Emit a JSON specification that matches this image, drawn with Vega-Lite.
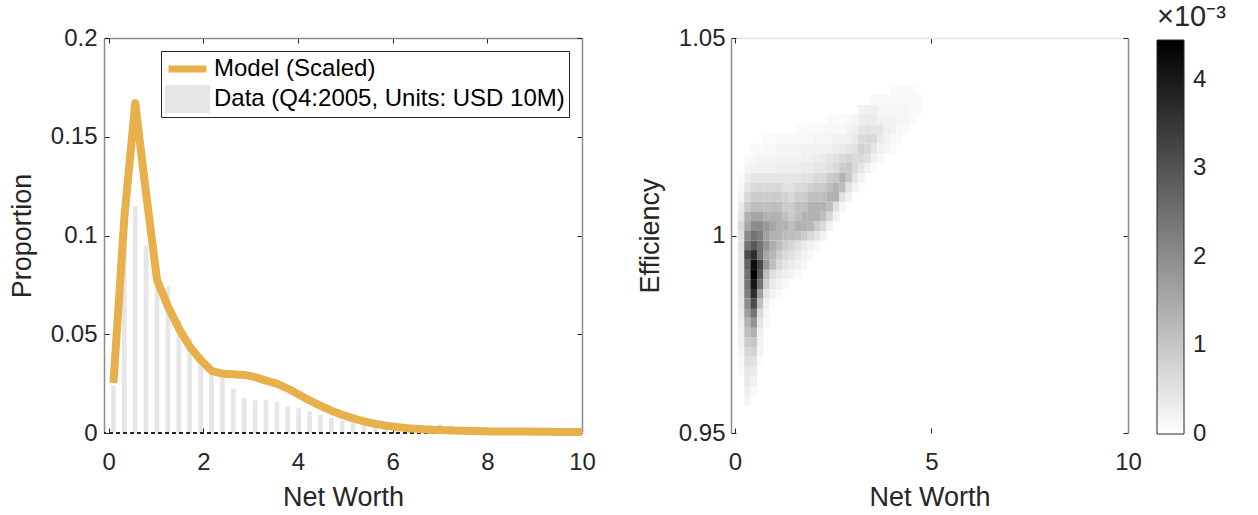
{
  "$schema": "https://vega.github.io/schema/vega-lite/v6.json",
  "padding": {"left": 8, "top": 3, "right": 0, "bottom": 0},
  "background": "#ffffff",
  "datasets": {
    "hist": [
      {"nw": 0.1, "prop": 0.024}, {"nw": 0.33, "prop": 0.095}, {"nw": 0.56, "prop": 0.115}, {"nw": 0.791, "prop": 0.095},
      {"nw": 1.021, "prop": 0.078}, {"nw": 1.251, "prop": 0.074}, {"nw": 1.481, "prop": 0.057}, {"nw": 1.711, "prop": 0.048},
      {"nw": 1.942, "prop": 0.04}, {"nw": 2.172, "prop": 0.032}, {"nw": 2.402, "prop": 0.028}, {"nw": 2.632, "prop": 0.0224},
      {"nw": 2.862, "prop": 0.0177}, {"nw": 3.093, "prop": 0.0165}, {"nw": 3.323, "prop": 0.0167}, {"nw": 3.553, "prop": 0.0157},
      {"nw": 3.783, "prop": 0.0135}, {"nw": 4.013, "prop": 0.0126}, {"nw": 4.244, "prop": 0.0109}, {"nw": 4.474, "prop": 0.0093},
      {"nw": 4.704, "prop": 0.0076}, {"nw": 4.934, "prop": 0.0062}, {"nw": 5.164, "prop": 0.005}, {"nw": 5.395, "prop": 0.0045},
      {"nw": 5.625, "prop": 0.0058}, {"nw": 5.855, "prop": 0.0035}, {"nw": 6.085, "prop": 0.003}, {"nw": 6.315, "prop": 0.0028},
      {"nw": 6.546, "prop": 0.0035}, {"nw": 6.776, "prop": 0.0042}, {"nw": 7.006, "prop": 0.0044}, {"nw": 7.236, "prop": 0.0038},
      {"nw": 7.466, "prop": 0.0025}, {"nw": 7.697, "prop": 0.003}, {"nw": 7.927, "prop": 0.0022}, {"nw": 8.157, "prop": 0.002},
      {"nw": 8.387, "prop": 0.0015}, {"nw": 8.617, "prop": 0.0012}, {"nw": 8.848, "prop": 0.001}, {"nw": 9.078, "prop": 0.0012},
      {"nw": 9.308, "prop": 0.001}, {"nw": 9.538, "prop": 0.0008}, {"nw": 9.768, "prop": 0.0015}, {"nw": 9.998, "prop": 0.0005}
    ],
    "model": [
      {"nw": 0.1, "prop": 0.0253}, {"nw": 0.33, "prop": 0.109}, {"nw": 0.56, "prop": 0.167}, {"nw": 0.791, "prop": 0.121},
      {"nw": 1.021, "prop": 0.0775}, {"nw": 1.251, "prop": 0.064}, {"nw": 1.481, "prop": 0.053}, {"nw": 1.711, "prop": 0.0438},
      {"nw": 1.942, "prop": 0.037}, {"nw": 2.172, "prop": 0.0315}, {"nw": 2.402, "prop": 0.03}, {"nw": 2.632, "prop": 0.0298},
      {"nw": 2.862, "prop": 0.0294}, {"nw": 3.093, "prop": 0.0283}, {"nw": 3.323, "prop": 0.0265}, {"nw": 3.553, "prop": 0.025},
      {"nw": 3.783, "prop": 0.0225}, {"nw": 4.013, "prop": 0.0195}, {"nw": 4.244, "prop": 0.0165}, {"nw": 4.474, "prop": 0.0138},
      {"nw": 4.704, "prop": 0.0113}, {"nw": 4.934, "prop": 0.0092}, {"nw": 5.164, "prop": 0.0074}, {"nw": 5.395, "prop": 0.0059},
      {"nw": 5.625, "prop": 0.0047}, {"nw": 5.855, "prop": 0.0037}, {"nw": 6.085, "prop": 0.003}, {"nw": 6.315, "prop": 0.0024},
      {"nw": 6.546, "prop": 0.002}, {"nw": 6.776, "prop": 0.0017}, {"nw": 7.006, "prop": 0.0015}, {"nw": 7.236, "prop": 0.0013},
      {"nw": 7.466, "prop": 0.0011}, {"nw": 7.697, "prop": 0.001}, {"nw": 7.927, "prop": 0.0009}, {"nw": 8.157, "prop": 0.0008},
      {"nw": 8.387, "prop": 0.0008}, {"nw": 8.617, "prop": 0.0007}, {"nw": 8.848, "prop": 0.0007}, {"nw": 9.078, "prop": 0.0006},
      {"nw": 9.308, "prop": 0.0006}, {"nw": 9.538, "prop": 0.0005}, {"nw": 9.768, "prop": 0.0005}, {"nw": 9.998, "prop": 0.0005}
    ],
    "density": [
      {"nw": 0.321, "eff": 0.9583, "d": 0.18},
      {"nw": 0.321, "eff": 0.9608, "d": 0.27}, {"nw": 0.482, "eff": 0.9608, "d": 0.13},
      {"nw": 0.321, "eff": 0.9632, "d": 0.36}, {"nw": 0.482, "eff": 0.9632, "d": 0.27},
      {"nw": 0.16, "eff": 0.9657, "d": 0.09}, {"nw": 0.321, "eff": 0.9657, "d": 0.45}, {"nw": 0.482, "eff": 0.9657, "d": 0.36},
      {"nw": 0.16, "eff": 0.9681, "d": 0.13}, {"nw": 0.321, "eff": 0.9681, "d": 0.58}, {"nw": 0.482, "eff": 0.9681, "d": 0.53}, {"nw": 0.643, "eff": 0.9681, "d": 0.09},
      {"nw": 0.16, "eff": 0.9706, "d": 0.18}, {"nw": 0.321, "eff": 0.9706, "d": 0.71}, {"nw": 0.482, "eff": 0.9706, "d": 0.76}, {"nw": 0.643, "eff": 0.9706, "d": 0.18},
      {"nw": 0.16, "eff": 0.973, "d": 0.22}, {"nw": 0.321, "eff": 0.973, "d": 0.89}, {"nw": 0.482, "eff": 0.973, "d": 0.98}, {"nw": 0.643, "eff": 0.973, "d": 0.22},
      {"nw": 0.16, "eff": 0.9755, "d": 0.27}, {"nw": 0.321, "eff": 0.9755, "d": 1.11}, {"nw": 0.482, "eff": 0.9755, "d": 1.34}, {"nw": 0.643, "eff": 0.9755, "d": 0.27},
      {"nw": 0.16, "eff": 0.9779, "d": 0.31}, {"nw": 0.321, "eff": 0.9779, "d": 1.34}, {"nw": 0.482, "eff": 0.9779, "d": 1.87}, {"nw": 0.643, "eff": 0.9779, "d": 0.45}, {"nw": 0.804, "eff": 0.9779, "d": 0.09},
      {"nw": 0.16, "eff": 0.9804, "d": 0.36}, {"nw": 0.321, "eff": 0.9804, "d": 1.69}, {"nw": 0.482, "eff": 0.9804, "d": 2.45}, {"nw": 0.643, "eff": 0.9804, "d": 0.67}, {"nw": 0.804, "eff": 0.9804, "d": 0.18},
      {"nw": 0.16, "eff": 0.9828, "d": 0.45}, {"nw": 0.321, "eff": 0.9828, "d": 2.0}, {"nw": 0.482, "eff": 0.9828, "d": 3.12}, {"nw": 0.643, "eff": 0.9828, "d": 1.11}, {"nw": 0.804, "eff": 0.9828, "d": 0.27}, {"nw": 0.965, "eff": 0.9828, "d": 0.09},
      {"nw": 0.16, "eff": 0.9853, "d": 0.45}, {"nw": 0.321, "eff": 0.9853, "d": 2.23}, {"nw": 0.482, "eff": 0.9853, "d": 3.65}, {"nw": 0.643, "eff": 0.9853, "d": 1.69}, {"nw": 0.804, "eff": 0.9853, "d": 0.45}, {"nw": 0.965, "eff": 0.9853, "d": 0.22}, {"nw": 1.126, "eff": 0.9853, "d": 0.09},
      {"nw": 0.16, "eff": 0.9877, "d": 0.45}, {"nw": 0.321, "eff": 0.9877, "d": 2.45}, {"nw": 0.482, "eff": 0.9877, "d": 4.09}, {"nw": 0.643, "eff": 0.9877, "d": 2.45}, {"nw": 0.804, "eff": 0.9877, "d": 0.8}, {"nw": 0.965, "eff": 0.9877, "d": 0.36}, {"nw": 1.126, "eff": 0.9877, "d": 0.22}, {"nw": 1.287, "eff": 0.9877, "d": 0.13},
      {"nw": 0.16, "eff": 0.9902, "d": 0.45}, {"nw": 0.321, "eff": 0.9902, "d": 2.45}, {"nw": 0.482, "eff": 0.9902, "d": 4.45}, {"nw": 0.643, "eff": 0.9902, "d": 2.89}, {"nw": 0.804, "eff": 0.9902, "d": 1.11}, {"nw": 0.965, "eff": 0.9902, "d": 0.53}, {"nw": 1.126, "eff": 0.9902, "d": 0.36}, {"nw": 1.287, "eff": 0.9902, "d": 0.27}, {"nw": 1.448, "eff": 0.9902, "d": 0.18}, {"nw": 1.609, "eff": 0.9902, "d": 0.09},
      {"nw": 0.16, "eff": 0.9926, "d": 0.45}, {"nw": 0.321, "eff": 0.9926, "d": 2.67}, {"nw": 0.482, "eff": 0.9926, "d": 4.23}, {"nw": 0.643, "eff": 0.9926, "d": 3.2}, {"nw": 0.804, "eff": 0.9926, "d": 1.78}, {"nw": 0.965, "eff": 0.9926, "d": 1.11}, {"nw": 1.126, "eff": 0.9926, "d": 0.67}, {"nw": 1.287, "eff": 0.9926, "d": 0.45}, {"nw": 1.448, "eff": 0.9926, "d": 0.31}, {"nw": 1.609, "eff": 0.9926, "d": 0.22}, {"nw": 1.77, "eff": 0.9926, "d": 0.13},
      {"nw": 0.16, "eff": 0.9951, "d": 0.45}, {"nw": 0.321, "eff": 0.9951, "d": 3.12}, {"nw": 0.482, "eff": 0.9951, "d": 3.65}, {"nw": 0.643, "eff": 0.9951, "d": 2.45}, {"nw": 0.804, "eff": 0.9951, "d": 1.56}, {"nw": 0.965, "eff": 0.9951, "d": 1.25}, {"nw": 1.126, "eff": 0.9951, "d": 0.89}, {"nw": 1.287, "eff": 0.9951, "d": 0.67}, {"nw": 1.448, "eff": 0.9951, "d": 0.53}, {"nw": 1.609, "eff": 0.9951, "d": 0.36}, {"nw": 1.77, "eff": 0.9951, "d": 0.22}, {"nw": 1.931, "eff": 0.9951, "d": 0.13},
      {"nw": 0.16, "eff": 0.9975, "d": 0.53}, {"nw": 0.321, "eff": 0.9975, "d": 2.45}, {"nw": 0.482, "eff": 0.9975, "d": 2.89}, {"nw": 0.643, "eff": 0.9975, "d": 2.45}, {"nw": 0.804, "eff": 0.9975, "d": 1.87}, {"nw": 0.965, "eff": 0.9975, "d": 1.42}, {"nw": 1.126, "eff": 0.9975, "d": 1.16}, {"nw": 1.287, "eff": 0.9975, "d": 0.89}, {"nw": 1.448, "eff": 0.9975, "d": 0.71}, {"nw": 1.609, "eff": 0.9975, "d": 0.53}, {"nw": 1.77, "eff": 0.9975, "d": 0.36}, {"nw": 1.931, "eff": 0.9975, "d": 0.22}, {"nw": 2.092, "eff": 0.9975, "d": 0.13},
      {"nw": 0.16, "eff": 1.0, "d": 0.53}, {"nw": 0.321, "eff": 1.0, "d": 2.0}, {"nw": 0.482, "eff": 1.0, "d": 2.45}, {"nw": 0.643, "eff": 1.0, "d": 2.23}, {"nw": 0.804, "eff": 1.0, "d": 1.6}, {"nw": 0.965, "eff": 1.0, "d": 1.34}, {"nw": 1.126, "eff": 1.0, "d": 1.34}, {"nw": 1.287, "eff": 1.0, "d": 1.16}, {"nw": 1.448, "eff": 1.0, "d": 1.11}, {"nw": 1.609, "eff": 1.0, "d": 1.07}, {"nw": 1.77, "eff": 1.0, "d": 0.89}, {"nw": 1.931, "eff": 1.0, "d": 0.67}, {"nw": 2.092, "eff": 1.0, "d": 0.45}, {"nw": 2.253, "eff": 1.0, "d": 0.22},
      {"nw": 0.16, "eff": 1.0024, "d": 0.67}, {"nw": 0.321, "eff": 1.0024, "d": 1.56}, {"nw": 0.482, "eff": 1.0024, "d": 2.0}, {"nw": 0.643, "eff": 1.0024, "d": 2.0}, {"nw": 0.804, "eff": 1.0024, "d": 1.78}, {"nw": 0.965, "eff": 1.0024, "d": 1.56}, {"nw": 1.126, "eff": 1.0024, "d": 1.34}, {"nw": 1.287, "eff": 1.0024, "d": 1.34}, {"nw": 1.448, "eff": 1.0024, "d": 1.11}, {"nw": 1.609, "eff": 1.0024, "d": 1.34}, {"nw": 1.77, "eff": 1.0024, "d": 1.34}, {"nw": 1.931, "eff": 1.0024, "d": 1.25}, {"nw": 2.092, "eff": 1.0024, "d": 0.89}, {"nw": 2.253, "eff": 1.0024, "d": 0.62}, {"nw": 2.414, "eff": 1.0024, "d": 0.22},
      {"nw": 0.16, "eff": 1.0049, "d": 0.45}, {"nw": 0.321, "eff": 1.0049, "d": 1.34}, {"nw": 0.482, "eff": 1.0049, "d": 1.56}, {"nw": 0.643, "eff": 1.0049, "d": 1.56}, {"nw": 0.804, "eff": 1.0049, "d": 1.34}, {"nw": 0.965, "eff": 1.0049, "d": 1.34}, {"nw": 1.126, "eff": 1.0049, "d": 1.34}, {"nw": 1.287, "eff": 1.0049, "d": 1.11}, {"nw": 1.448, "eff": 1.0049, "d": 0.89}, {"nw": 1.609, "eff": 1.0049, "d": 1.11}, {"nw": 1.77, "eff": 1.0049, "d": 1.34}, {"nw": 1.931, "eff": 1.0049, "d": 1.34}, {"nw": 2.092, "eff": 1.0049, "d": 1.34}, {"nw": 2.253, "eff": 1.0049, "d": 1.11}, {"nw": 2.414, "eff": 1.0049, "d": 0.67}, {"nw": 2.575, "eff": 1.0049, "d": 0.22},
      {"nw": 0.16, "eff": 1.0073, "d": 0.36}, {"nw": 0.321, "eff": 1.0073, "d": 0.89}, {"nw": 0.482, "eff": 1.0073, "d": 1.11}, {"nw": 0.643, "eff": 1.0073, "d": 1.11}, {"nw": 0.804, "eff": 1.0073, "d": 1.11}, {"nw": 0.965, "eff": 1.0073, "d": 1.11}, {"nw": 1.126, "eff": 1.0073, "d": 1.11}, {"nw": 1.287, "eff": 1.0073, "d": 0.89}, {"nw": 1.448, "eff": 1.0073, "d": 0.89}, {"nw": 1.609, "eff": 1.0073, "d": 1.11}, {"nw": 1.77, "eff": 1.0073, "d": 1.11}, {"nw": 1.931, "eff": 1.0073, "d": 1.34}, {"nw": 2.092, "eff": 1.0073, "d": 1.34}, {"nw": 2.253, "eff": 1.0073, "d": 1.34}, {"nw": 2.414, "eff": 1.0073, "d": 1.11}, {"nw": 2.575, "eff": 1.0073, "d": 0.53}, {"nw": 2.736, "eff": 1.0073, "d": 0.18},
      {"nw": 0.16, "eff": 1.0098, "d": 0.22}, {"nw": 0.321, "eff": 1.0098, "d": 0.67}, {"nw": 0.482, "eff": 1.0098, "d": 0.89}, {"nw": 0.643, "eff": 1.0098, "d": 0.89}, {"nw": 0.804, "eff": 1.0098, "d": 0.89}, {"nw": 0.965, "eff": 1.0098, "d": 0.89}, {"nw": 1.126, "eff": 1.0098, "d": 0.89}, {"nw": 1.287, "eff": 1.0098, "d": 0.8}, {"nw": 1.448, "eff": 1.0098, "d": 0.67}, {"nw": 1.609, "eff": 1.0098, "d": 0.89}, {"nw": 1.77, "eff": 1.0098, "d": 0.89}, {"nw": 1.931, "eff": 1.0098, "d": 1.11}, {"nw": 2.092, "eff": 1.0098, "d": 1.11}, {"nw": 2.253, "eff": 1.0098, "d": 1.16}, {"nw": 2.414, "eff": 1.0098, "d": 1.34}, {"nw": 2.575, "eff": 1.0098, "d": 1.34}, {"nw": 2.736, "eff": 1.0098, "d": 0.53}, {"nw": 2.897, "eff": 1.0098, "d": 0.22},
      {"nw": 0.16, "eff": 1.0122, "d": 0.13}, {"nw": 0.321, "eff": 1.0122, "d": 0.45}, {"nw": 0.482, "eff": 1.0122, "d": 0.62}, {"nw": 0.643, "eff": 1.0122, "d": 0.67}, {"nw": 0.804, "eff": 1.0122, "d": 0.67}, {"nw": 0.965, "eff": 1.0122, "d": 0.67}, {"nw": 1.126, "eff": 1.0122, "d": 0.67}, {"nw": 1.287, "eff": 1.0122, "d": 0.53}, {"nw": 1.448, "eff": 1.0122, "d": 0.53}, {"nw": 1.609, "eff": 1.0122, "d": 0.67}, {"nw": 1.77, "eff": 1.0122, "d": 0.67}, {"nw": 1.931, "eff": 1.0122, "d": 0.8}, {"nw": 2.092, "eff": 1.0122, "d": 0.89}, {"nw": 2.253, "eff": 1.0122, "d": 0.89}, {"nw": 2.414, "eff": 1.0122, "d": 1.11}, {"nw": 2.575, "eff": 1.0122, "d": 1.34}, {"nw": 2.736, "eff": 1.0122, "d": 1.16}, {"nw": 2.897, "eff": 1.0122, "d": 0.53}, {"nw": 3.058, "eff": 1.0122, "d": 0.22}, {"nw": 3.219, "eff": 1.0122, "d": 0.09},
      {"nw": 0.16, "eff": 1.0147, "d": 0.09}, {"nw": 0.321, "eff": 1.0147, "d": 0.31}, {"nw": 0.482, "eff": 1.0147, "d": 0.45}, {"nw": 0.643, "eff": 1.0147, "d": 0.45}, {"nw": 0.804, "eff": 1.0147, "d": 0.45}, {"nw": 0.965, "eff": 1.0147, "d": 0.45}, {"nw": 1.126, "eff": 1.0147, "d": 0.45}, {"nw": 1.287, "eff": 1.0147, "d": 0.45}, {"nw": 1.448, "eff": 1.0147, "d": 0.45}, {"nw": 1.609, "eff": 1.0147, "d": 0.45}, {"nw": 1.77, "eff": 1.0147, "d": 0.53}, {"nw": 1.931, "eff": 1.0147, "d": 0.53}, {"nw": 2.092, "eff": 1.0147, "d": 0.67}, {"nw": 2.253, "eff": 1.0147, "d": 0.67}, {"nw": 2.414, "eff": 1.0147, "d": 0.89}, {"nw": 2.575, "eff": 1.0147, "d": 0.98}, {"nw": 2.736, "eff": 1.0147, "d": 1.34}, {"nw": 2.897, "eff": 1.0147, "d": 0.98}, {"nw": 3.058, "eff": 1.0147, "d": 0.45}, {"nw": 3.219, "eff": 1.0147, "d": 0.22},
      {"nw": 0.321, "eff": 1.0171, "d": 0.18}, {"nw": 0.482, "eff": 1.0171, "d": 0.22}, {"nw": 0.643, "eff": 1.0171, "d": 0.27}, {"nw": 0.804, "eff": 1.0171, "d": 0.27}, {"nw": 0.965, "eff": 1.0171, "d": 0.27}, {"nw": 1.126, "eff": 1.0171, "d": 0.31}, {"nw": 1.287, "eff": 1.0171, "d": 0.31}, {"nw": 1.448, "eff": 1.0171, "d": 0.31}, {"nw": 1.609, "eff": 1.0171, "d": 0.31}, {"nw": 1.77, "eff": 1.0171, "d": 0.36}, {"nw": 1.931, "eff": 1.0171, "d": 0.36}, {"nw": 2.092, "eff": 1.0171, "d": 0.45}, {"nw": 2.253, "eff": 1.0171, "d": 0.45}, {"nw": 2.414, "eff": 1.0171, "d": 0.53}, {"nw": 2.575, "eff": 1.0171, "d": 0.67}, {"nw": 2.736, "eff": 1.0171, "d": 0.89}, {"nw": 2.897, "eff": 1.0171, "d": 0.98}, {"nw": 3.058, "eff": 1.0171, "d": 0.67}, {"nw": 3.219, "eff": 1.0171, "d": 0.45}, {"nw": 3.38, "eff": 1.0171, "d": 0.22}, {"nw": 3.541, "eff": 1.0171, "d": 0.09},
      {"nw": 0.321, "eff": 1.0196, "d": 0.09}, {"nw": 0.482, "eff": 1.0196, "d": 0.13}, {"nw": 0.643, "eff": 1.0196, "d": 0.18}, {"nw": 0.804, "eff": 1.0196, "d": 0.18}, {"nw": 0.965, "eff": 1.0196, "d": 0.18}, {"nw": 1.126, "eff": 1.0196, "d": 0.22}, {"nw": 1.287, "eff": 1.0196, "d": 0.22}, {"nw": 1.448, "eff": 1.0196, "d": 0.22}, {"nw": 1.609, "eff": 1.0196, "d": 0.22}, {"nw": 1.77, "eff": 1.0196, "d": 0.27}, {"nw": 1.931, "eff": 1.0196, "d": 0.27}, {"nw": 2.092, "eff": 1.0196, "d": 0.31}, {"nw": 2.253, "eff": 1.0196, "d": 0.36}, {"nw": 2.414, "eff": 1.0196, "d": 0.45}, {"nw": 2.575, "eff": 1.0196, "d": 0.53}, {"nw": 2.736, "eff": 1.0196, "d": 0.67}, {"nw": 2.897, "eff": 1.0196, "d": 0.71}, {"nw": 3.058, "eff": 1.0196, "d": 0.62}, {"nw": 3.219, "eff": 1.0196, "d": 0.67}, {"nw": 3.38, "eff": 1.0196, "d": 0.53}, {"nw": 3.541, "eff": 1.0196, "d": 0.27}, {"nw": 3.702, "eff": 1.0196, "d": 0.13},
      {"nw": 0.482, "eff": 1.022, "d": 0.09}, {"nw": 0.643, "eff": 1.022, "d": 0.09}, {"nw": 0.804, "eff": 1.022, "d": 0.13}, {"nw": 0.965, "eff": 1.022, "d": 0.13}, {"nw": 1.126, "eff": 1.022, "d": 0.18}, {"nw": 1.287, "eff": 1.022, "d": 0.18}, {"nw": 1.448, "eff": 1.022, "d": 0.18}, {"nw": 1.609, "eff": 1.022, "d": 0.18}, {"nw": 1.77, "eff": 1.022, "d": 0.22}, {"nw": 1.931, "eff": 1.022, "d": 0.22}, {"nw": 2.092, "eff": 1.022, "d": 0.22}, {"nw": 2.253, "eff": 1.022, "d": 0.22}, {"nw": 2.414, "eff": 1.022, "d": 0.27}, {"nw": 2.575, "eff": 1.022, "d": 0.31}, {"nw": 2.736, "eff": 1.022, "d": 0.36}, {"nw": 2.897, "eff": 1.022, "d": 0.45}, {"nw": 3.058, "eff": 1.022, "d": 0.53}, {"nw": 3.219, "eff": 1.022, "d": 0.8}, {"nw": 3.38, "eff": 1.022, "d": 0.67}, {"nw": 3.541, "eff": 1.022, "d": 0.45}, {"nw": 3.702, "eff": 1.022, "d": 0.22}, {"nw": 3.863, "eff": 1.022, "d": 0.18}, {"nw": 4.024, "eff": 1.022, "d": 0.09},
      {"nw": 0.804, "eff": 1.0245, "d": 0.09}, {"nw": 0.965, "eff": 1.0245, "d": 0.09}, {"nw": 1.126, "eff": 1.0245, "d": 0.09}, {"nw": 1.287, "eff": 1.0245, "d": 0.09}, {"nw": 1.448, "eff": 1.0245, "d": 0.09}, {"nw": 1.609, "eff": 1.0245, "d": 0.13}, {"nw": 1.77, "eff": 1.0245, "d": 0.13}, {"nw": 1.931, "eff": 1.0245, "d": 0.13}, {"nw": 2.092, "eff": 1.0245, "d": 0.18}, {"nw": 2.253, "eff": 1.0245, "d": 0.18}, {"nw": 2.414, "eff": 1.0245, "d": 0.18}, {"nw": 2.575, "eff": 1.0245, "d": 0.22}, {"nw": 2.736, "eff": 1.0245, "d": 0.22}, {"nw": 2.897, "eff": 1.0245, "d": 0.27}, {"nw": 3.058, "eff": 1.0245, "d": 0.36}, {"nw": 3.219, "eff": 1.0245, "d": 0.62}, {"nw": 3.38, "eff": 1.0245, "d": 0.67}, {"nw": 3.541, "eff": 1.0245, "d": 0.67}, {"nw": 3.702, "eff": 1.0245, "d": 0.36}, {"nw": 3.863, "eff": 1.0245, "d": 0.22}, {"nw": 4.024, "eff": 1.0245, "d": 0.13}, {"nw": 4.185, "eff": 1.0245, "d": 0.09},
      {"nw": 1.609, "eff": 1.0269, "d": 0.09}, {"nw": 1.77, "eff": 1.0269, "d": 0.09}, {"nw": 1.931, "eff": 1.0269, "d": 0.09}, {"nw": 2.092, "eff": 1.0269, "d": 0.09}, {"nw": 2.253, "eff": 1.0269, "d": 0.13}, {"nw": 2.414, "eff": 1.0269, "d": 0.13}, {"nw": 2.575, "eff": 1.0269, "d": 0.13}, {"nw": 2.736, "eff": 1.0269, "d": 0.13}, {"nw": 2.897, "eff": 1.0269, "d": 0.22}, {"nw": 3.058, "eff": 1.0269, "d": 0.27}, {"nw": 3.219, "eff": 1.0269, "d": 0.45}, {"nw": 3.38, "eff": 1.0269, "d": 0.53}, {"nw": 3.541, "eff": 1.0269, "d": 0.45}, {"nw": 3.702, "eff": 1.0269, "d": 0.45}, {"nw": 3.863, "eff": 1.0269, "d": 0.27}, {"nw": 4.024, "eff": 1.0269, "d": 0.22}, {"nw": 4.185, "eff": 1.0269, "d": 0.13}, {"nw": 4.346, "eff": 1.0269, "d": 0.09},
      {"nw": 2.414, "eff": 1.0294, "d": 0.09}, {"nw": 2.575, "eff": 1.0294, "d": 0.09}, {"nw": 2.736, "eff": 1.0294, "d": 0.09}, {"nw": 2.897, "eff": 1.0294, "d": 0.13}, {"nw": 3.058, "eff": 1.0294, "d": 0.18}, {"nw": 3.219, "eff": 1.0294, "d": 0.31}, {"nw": 3.38, "eff": 1.0294, "d": 0.36}, {"nw": 3.541, "eff": 1.0294, "d": 0.36}, {"nw": 3.702, "eff": 1.0294, "d": 0.27}, {"nw": 3.863, "eff": 1.0294, "d": 0.22}, {"nw": 4.024, "eff": 1.0294, "d": 0.22}, {"nw": 4.185, "eff": 1.0294, "d": 0.18}, {"nw": 4.346, "eff": 1.0294, "d": 0.18}, {"nw": 4.507, "eff": 1.0294, "d": 0.09},
      {"nw": 3.219, "eff": 1.0318, "d": 0.22}, {"nw": 3.38, "eff": 1.0318, "d": 0.27}, {"nw": 3.541, "eff": 1.0318, "d": 0.27}, {"nw": 3.702, "eff": 1.0318, "d": 0.18}, {"nw": 3.863, "eff": 1.0318, "d": 0.18}, {"nw": 4.024, "eff": 1.0318, "d": 0.18}, {"nw": 4.185, "eff": 1.0318, "d": 0.18}, {"nw": 4.346, "eff": 1.0318, "d": 0.18}, {"nw": 4.507, "eff": 1.0318, "d": 0.13}, {"nw": 4.668, "eff": 1.0318, "d": 0.13},
      {"nw": 3.541, "eff": 1.0343, "d": 0.13}, {"nw": 3.702, "eff": 1.0343, "d": 0.13}, {"nw": 3.863, "eff": 1.0343, "d": 0.13}, {"nw": 4.024, "eff": 1.0343, "d": 0.13}, {"nw": 4.185, "eff": 1.0343, "d": 0.13}, {"nw": 4.346, "eff": 1.0343, "d": 0.13}, {"nw": 4.507, "eff": 1.0343, "d": 0.13}, {"nw": 4.668, "eff": 1.0343, "d": 0.13},
      {"nw": 4.024, "eff": 1.0367, "d": 0.09}, {"nw": 4.185, "eff": 1.0367, "d": 0.09}, {"nw": 4.346, "eff": 1.0367, "d": 0.09}, {"nw": 4.507, "eff": 1.0367, "d": 0.09}
    ]
  },
  "hconcat": [
    {
      "width": 478,
      "height": 395,
      "layer": [
        {
          "data": {"name": "hist"},
          "mark": {"type": "bar", "width": 4.6},
          "encoding": {
            "x": {
              "field": "nw", "type": "quantitative",
              "scale": {"domain": [-0.1, 10], "nice": false, "zero": false, "padding": 0},
              "axis": {"orient": "bottom", "values": [0, 2, 4, 6, 8, 10], "title": "Net Worth", "domain": false, "labelPadding": 22, "titlePadding": 10}
            },
            "y": {
              "field": "prop", "type": "quantitative",
              "scale": {"domain": [0, 0.2], "nice": false, "padding": 0},
              "axis": {"orient": "left", "values": [0, 0.05, 0.1, 0.15, 0.2], "format": "~g", "title": "Proportion", "labelPadding": 12, "titlePadding": 14}
            },
            "color": {
              "datum": "Data (Q4:2005, Units: USD 10M)", "type": "nominal",
              "scale": {"domain": ["Model (Scaled)", "Data (Q4:2005, Units: USD 10M)"], "range": ["#e8b04a", "#e6e6e6"]},
              "legend": {
                "orient": "top-right", "offset": 13, "title": null,
                "padding": 4, "strokeColor": "#262626", "fillColor": "#ffffff",
                "labelFontSize": 24, "labelColor": "#000000", "labelOffset": 4, "labelLimit": 0,
                "symbolSize": 1444, "clipHeight": 28, "rowPadding": 2, "symbolType": "square",
                "encode": {
                  "symbols": {
                    "update": {
                      "shape": {"signal": "datum.value === 'Model (Scaled)' ? 'M-1,0H1' : 'M-1,-0.58H1V0.58H-1Z'"},
                      "fill": {"signal": "datum.value === 'Model (Scaled)' ? 'transparent' : '#e6e6e6'"},
                      "stroke": {"signal": "datum.value === 'Model (Scaled)' ? '#e8b04a' : 'transparent'"},
                      "strokeWidth": {"value": 7},
                      "opacity": {"value": 1}
                    }
                  }
                }
              }
            }
          }
        },
        {
          "data": {"name": "hist"},
          "mark": {"type": "rule", "color": "#262626", "strokeWidth": 1, "strokeDash": [4, 3]},
          "encoding": {"y": {"datum": 0, "type": "quantitative", "axis": null}}
        },
        {
          "data": {"name": "model"},
          "mark": {"type": "line", "strokeWidth": 8, "strokeJoin": "round", "strokeCap": "butt"},
          "encoding": {
            "x": {
              "field": "nw", "type": "quantitative",
              "axis": {"orient": "top", "values": [0, 2, 4, 6, 8, 10], "labels": false, "title": null}
            },
            "y": {
              "field": "prop", "type": "quantitative",
              "axis": {"orient": "right", "values": [0, 0.05, 0.1, 0.15, 0.2], "labels": false, "title": null}
            },
            "color": {"datum": "Model (Scaled)", "type": "nominal"}
          }
        }
      ],
      "resolve": {"axis": {"x": "independent", "y": "independent"}}
    },
    {
      "width": 397,
      "height": 395,
      "layer": [
        {
          "data": {"name": "density"},
          "mark": {"type": "rect", "width": 6.6, "height": 9.9},
          "encoding": {
            "x": {
              "field": "nw", "type": "quantitative",
              "scale": {"domain": [-0.1, 10], "nice": false, "zero": false, "padding": 0},
              "axis": {"orient": "bottom", "values": [0, 5, 10], "title": "Net Worth", "domain": false, "labelPadding": 22, "titlePadding": 10}
            },
            "y": {
              "field": "eff", "type": "quantitative",
              "scale": {"domain": [0.95, 1.05], "nice": false, "zero": false, "padding": 0},
              "axis": {"orient": "left", "values": [0.95, 1, 1.05], "format": "~g", "title": "Efficiency", "labelPadding": 11, "titlePadding": 14}
            },
            "color": {
              "field": "d", "type": "quantitative",
              "scale": {"domain": [0, 4.45], "range": ["#ffffff", "#000000"], "interpolate": "rgb", "nice": false},
              "legend": {
                "orient": "none", "legendX": 426, "legendY": -35, "direction": "vertical",
                "title": "×10⁻³", "titleFontSize": 29, "titleFontWeight": "normal", "titleColor": "#262626", "titlePadding": 8,
                "gradientLength": 394, "gradientThickness": 27,
                "gradientStrokeColor": "#262626", "gradientStrokeWidth": 1,
                "values": [0, 1, 2, 3, 4], "labelFontSize": 24, "labelColor": "#262626", "labelOffset": 9,
                "encode": {"labels": {"update": {"baseline": {"value": "middle"}}}}
              }
            }
          }
        },
        {
          "data": {"name": "density"},
          "mark": {"type": "point", "opacity": 0},
          "encoding": {
            "x": {
              "field": "nw", "type": "quantitative",
              "axis": {"orient": "top", "values": [0, 5, 10], "labels": false, "title": null, "domainColor": "#e3e3e3"}
            },
            "y": {
              "field": "eff", "type": "quantitative",
              "axis": {"orient": "right", "values": [0.95, 1, 1.05], "labels": false, "title": null}
            }
          }
        }
      ],
      "resolve": {"axis": {"x": "independent", "y": "independent"}}
    }
  ],
  "spacing": 40,
  "config": {
    "font": "Liberation Sans",
    "view": {"stroke": null},
    "axis": {
      "labelFont": "Liberation Sans", "titleFont": "Liberation Sans",
      "labelFontSize": 24, "titleFontSize": 27, "titleFontWeight": "normal",
      "labelColor": "#262626", "titleColor": "#262626",
      "grid": false, "labelFlush": false, "labelOverlap": false,
      "domainColor": "#8c8c8c", "domainWidth": 1.5,
      "tickColor": "#262626", "tickWidth": 1, "tickSize": -5
    },
    "legend": {"labelFont": "Liberation Sans", "titleFont": "Liberation Sans"}
  }
}
